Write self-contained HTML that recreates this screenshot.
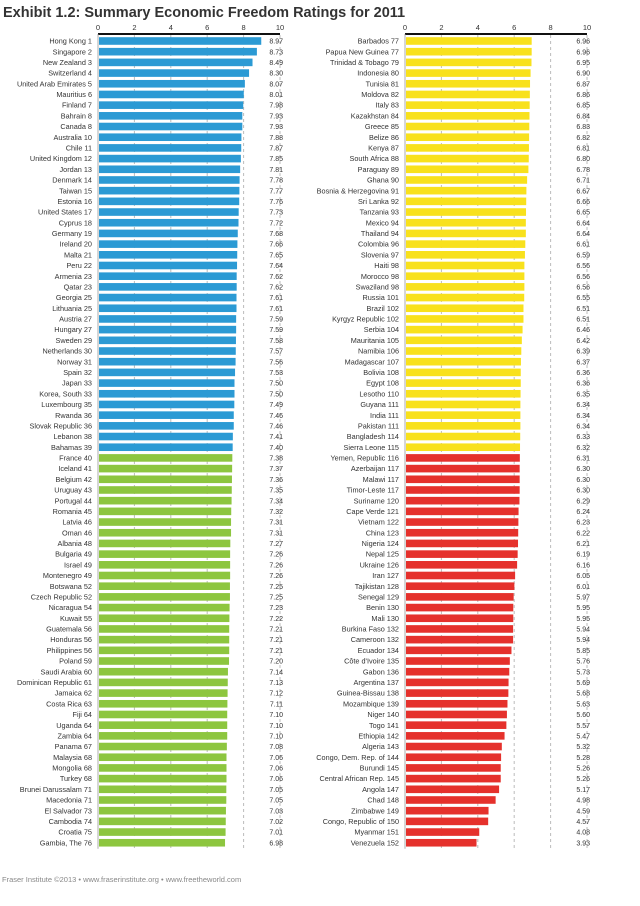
<!DOCTYPE html>
<html><head><meta charset="utf-8"><style>
html,body{margin:0;padding:0;background:#fff;}
svg{display:block;font-family:"Liberation Sans",sans-serif;}
</style></head><body>
<svg id="chart" width="640" height="906" viewBox="0 0 640 906">
<text x="3" y="17" font-size="14.5" font-weight="bold" fill="#333">Exhibit 1.2: Summary Economic Freedom Ratings for 2011</text>
<text x="2" y="882" font-size="7.5" fill="#888">Fraser Institute ©2013  •  www.fraserinstitute.org  •  www.freetheworld.com</text>
</svg>
<script>
const leftNames=["Hong Kong","Singapore","New Zealand","Switzerland","United Arab Emirates","Mauritius","Finland","Bahrain","Canada","Australia","Chile","United Kingdom","Jordan","Denmark","Taiwan","Estonia","United States","Cyprus","Germany","Ireland","Malta","Peru","Armenia","Qatar","Georgia","Lithuania","Austria","Hungary","Sweden","Netherlands","Norway","Spain","Japan","Korea, South","Luxembourg","Rwanda","Slovak Republic","Lebanon","Bahamas","France","Iceland","Belgium","Uruguay","Portugal","Romania","Latvia","Oman","Albania","Bulgaria","Israel","Montenegro","Botswana","Czech Republic","Nicaragua","Kuwait","Guatemala","Honduras","Philippines","Poland","Saudi Arabia","Dominican Republic","Jamaica","Costa Rica","Fiji","Uganda","Zambia","Panama","Malaysia","Mongolia","Turkey","Brunei Darussalam","Macedonia","El Salvador","Cambodia","Croatia","Gambia, The"];
const leftRanks=[1,2,3,4,5,6,7,8,8,10,11,12,13,14,15,16,17,18,19,20,21,22,23,23,25,25,27,27,29,30,31,32,33,33,35,36,36,38,39,40,41,42,43,44,45,46,46,48,49,49,49,52,52,54,55,56,56,56,59,60,61,62,63,64,64,64,67,68,68,68,71,71,73,74,75,76];
const leftValues=[8.97,8.73,8.49,8.30,8.07,8.01,7.98,7.93,7.93,7.88,7.87,7.85,7.81,7.78,7.77,7.76,7.73,7.72,7.68,7.66,7.65,7.64,7.62,7.62,7.61,7.61,7.59,7.59,7.58,7.57,7.56,7.53,7.50,7.50,7.49,7.46,7.46,7.41,7.40,7.38,7.37,7.36,7.35,7.34,7.32,7.31,7.31,7.27,7.26,7.26,7.26,7.25,7.25,7.23,7.22,7.21,7.21,7.21,7.20,7.14,7.13,7.12,7.11,7.10,7.10,7.10,7.08,7.06,7.06,7.06,7.05,7.05,7.03,7.02,7.01,6.98];
const rightNames=["Barbados","Papua New Guinea","Trinidad & Tobago","Indonesia","Tunisia","Moldova","Italy","Kazakhstan","Greece","Belize","Kenya","South Africa","Paraguay","Ghana","Bosnia & Herzegovina","Sri Lanka","Tanzania","Mexico","Thailand","Colombia","Slovenia","Haiti","Morocco","Swaziland","Russia","Brazil","Kyrgyz Republic","Serbia","Mauritania","Namibia","Madagascar","Bolivia","Egypt","Lesotho","Guyana","India","Pakistan","Bangladesh","Sierra Leone","Yemen, Republic","Azerbaijan","Malawi","Timor-Leste","Suriname","Cape Verde","Vietnam","China","Nigeria","Nepal","Ukraine","Iran","Tajikistan","Senegal","Benin","Mali","Burkina Faso","Cameroon","Ecuador","Côte d'Ivoire","Gabon","Argentina","Guinea-Bissau","Mozambique","Niger","Togo","Ethiopia","Algeria","Congo, Dem. Rep. of","Burundi","Central African Rep.","Angola","Chad","Zimbabwe","Congo, Republic of","Myanmar","Venezuela"];
const rightRanks=[77,77,79,80,81,82,83,84,85,86,87,88,89,90,91,92,93,94,94,96,97,98,98,98,101,102,102,104,105,106,107,108,108,110,111,111,111,114,115,116,117,117,117,120,121,122,123,124,125,126,127,128,129,130,130,132,132,134,135,136,137,138,139,140,141,142,143,144,145,145,147,148,149,150,151,152];
const rightValues=[6.96,6.96,6.95,6.90,6.87,6.86,6.85,6.84,6.83,6.82,6.81,6.80,6.78,6.71,6.67,6.66,6.65,6.64,6.64,6.61,6.59,6.56,6.56,6.56,6.55,6.51,6.51,6.46,6.42,6.39,6.37,6.36,6.36,6.35,6.34,6.34,6.34,6.33,6.32,6.31,6.30,6.30,6.30,6.29,6.24,6.23,6.22,6.21,6.19,6.16,6.05,6.01,5.97,5.95,5.95,5.94,5.94,5.85,5.76,5.73,5.69,5.68,5.63,5.60,5.57,5.47,5.32,5.28,5.26,5.26,5.17,4.98,4.59,4.57,4.08,3.93];
const tickLabels=[0,2,4,6,8,10];

const svg=document.getElementById('chart');
const NS='http://www.w3.org/2000/svg';
function mk(tag,attrs){const e=document.createElementNS(NS,tag);for(const k in attrs)e.setAttribute(k,attrs[k]);svg.appendChild(e);return e;}
const rowY0=41, rowStep=10.69, barH=7.6;
function yPos(i){return rowY0+i*rowStep;}

function panel(x0,names,ranks,values,splitRank,c1,c2,valX,side){
  const xs=v=>x0+v*18.2;
  const last=yPos(names.length-1)+6;
  tickLabels.forEach(t=>{
    if(t>0){
      const g=mk('line',{x1:xs(t),x2:xs(t),y1:35,y2:last,stroke:'#bbb','stroke-width':1,'stroke-dasharray':'3,3'});
      
      
    }
    const tl=mk('text',{x:xs(t),y:30,'font-size':7.5,'text-anchor':'middle',fill:'#333'});
    tl.textContent=t;
    
    
  });
  const ax=mk('line',{x1:xs(0),x2:xs(10),y1:34,y2:34,stroke:'#111','stroke-width':2});
  
  
  const base=mk('line',{x1:xs(0),x2:xs(0),y1:34,y2:last,stroke:'#999','stroke-width':0.8});
  
  
  names.forEach((n,i)=>{
    const y=yPos(i);
    const col=ranks[i]<splitRank?c1:c2;
    const b=mk('rect',{x:xs(0)+1,y:y-barH/2,width:xs(values[i])-xs(0)-1,height:barH,fill:col});
    
    
    const l=mk('text',{x:x0-6,y:y+2.6,'font-size':7.3,'text-anchor':'end',fill:'#333'});
    l.textContent=n+' '+ranks[i];
    
    
    const v=mk('text',{x:valX,y:y+2.6,'font-size':7,'text-anchor':'end',fill:'#333'});
    v.textContent=values[i].toFixed(2);
    
    
  });
}
panel(98,leftNames,leftRanks,leftValues,40,'#2b9ad4','#8dc63f',283,'left');
panel(405,rightNames,rightRanks,rightValues,116,'#f8e11c','#e5312c',590,'right');
</script>
</body></html>
